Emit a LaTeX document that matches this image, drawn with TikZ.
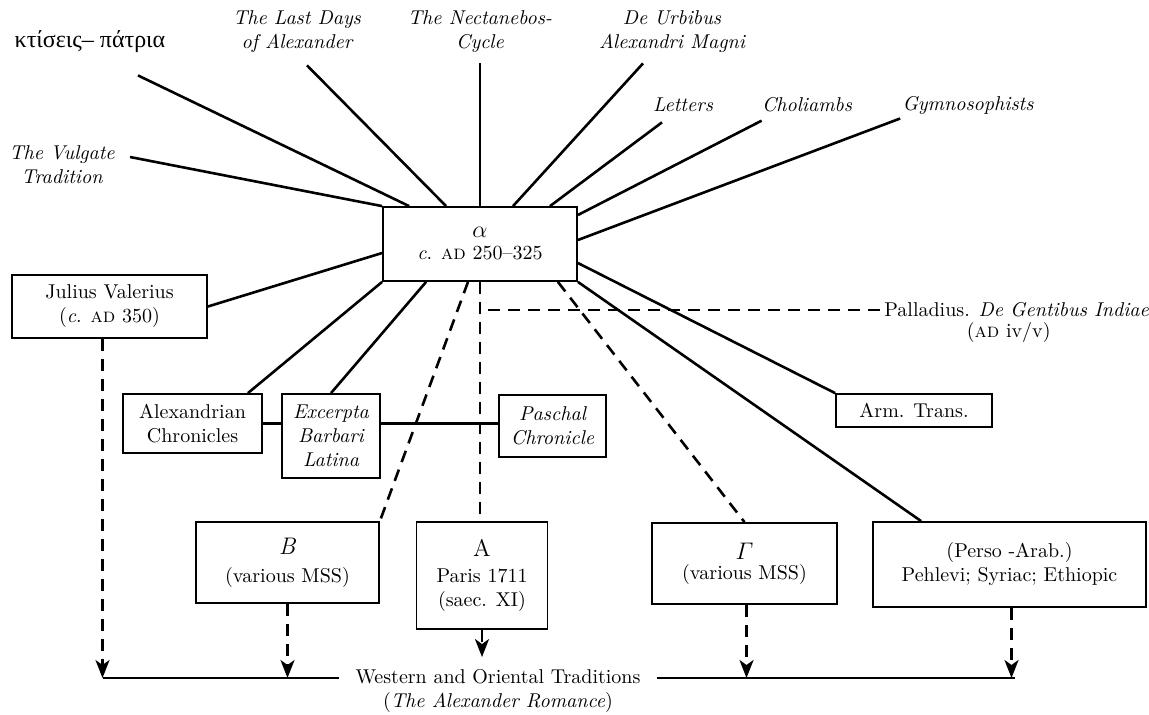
\documentclass[tikz,border=0pt]{standalone}
\usepackage{fontspec}
\usepackage{amsmath}
\newfontfamily\grkfont{Liberation Serif}
\usetikzlibrary{positioning, arrows.meta}

\begin{document}
\begin{tikzpicture}[x=0.5pt,y=-0.5pt,>={Stealth[length=9pt,width=7pt,inset=2.5pt]},
    box/.style={draw,line width=0.9pt,align=center,inner sep=0pt},
    lbl/.style={align=center,font=\itshape,inner sep=0pt},
    conn/.style={line width=1.3pt},
    dline/.style={line width=1.3pt,dash pattern=on 6pt off 4pt}]
    \useasboundingbox (0,0) rectangle (1149,714);

    % alpha and the boxes round it
    \node[box,minimum width=97pt,minimum height=37pt] (alpha) at (480,244)
        {\large$\alpha$\\[-1pt]\textit{c}. \textsc{ad} 250--325};
    \node[box,minimum width=97.5pt,minimum height=31.5pt] (julius) at (109.5,306.5)
        {Julius Valerius\\(\textit{c}. \textsc{ad} 350)};
    \node[box,minimum width=69.5pt,minimum height=29.5pt] (alexchron) at (192.5,423.5)
        {Alexandrian\\Chronicles};
    \node[box,font=\itshape,minimum width=49pt,minimum height=42pt] (excerpta) at (331,436)
        {Excerpta\\Barbari\\Latina};
    \node[box,font=\itshape,minimum width=53.5pt,minimum height=31pt] (paschal) at (552.5,426)
        {Paschal\\Chronicle};
    \node[box,minimum width=78pt,minimum height=16.5pt] (armtrans) at (914,410.5) {Arm. Trans.};
    \node[box,minimum width=91.5pt,minimum height=40.5pt] (bbox) at (287.5,562.5)
        {\large\textit{B}\\[2pt](various MSS)};
    \node[box,minimum width=65.5pt,minimum height=53.5pt] (abox) at (482,575.5)
        {\large A\\[1pt]Paris 1711\\(saec. XI)};
    \node[box,minimum width=92.5pt,minimum height=40.5pt] (gbox) at (744.5,563.5)
        {\large$\varGamma$\\[-2pt](various MSS)};
    \node[box,minimum width=136.5pt,minimum height=42.5pt] (perso) at (1009.5,564.5)
        {(Perso -Arab.)\\Pehlevi; Syriac; Ethiopic};

    % labels at the top
    \node[inner sep=0pt,font=\grkfont\large] (ktiseis) at (90,42) {κτίσεις– πάτρια};
    \node[lbl] (lastdays) at (297,32) {The Last Days\\of Alexander};
    \node[lbl] (necta) at (480,32) {The Nectanebos-\\Cycle};
    \node[lbl] (urbibus) at (672,32) {De Urbibus\\Alexandri Magni};
    \node[lbl] (letters) at (683,105) {Letters};
    \node[lbl] (choliambs) at (807,105) {Choliambs};
    \node[lbl] (gymno) at (968,105) {Gymnosophists};
    \node[lbl] (vulgate) at (62,165) {The Vulgate\\Tradition};

    \node[anchor=west,inner sep=0pt] (pal) at (884,310) {Palladius. \textit{De Gentibus Indiae}};
    \node[below=2pt of pal,inner sep=0pt,xshift=-4pt] (paldate) {(\textsc{ad} iv/v)};

    \node[align=center,inner xsep=8pt,inner ysep=2pt] (trad) at (498,691)
        {Western and Oriental Traditions\\(\textit{The Alexander Romance})};

    % fan of sources
    \draw[conn] ([shift={(7.5pt,4pt)}]vulgate.east) -- (alpha.north west);
    \draw[conn] ([shift={(24pt,-11pt)}]ktiseis.south) -- ([xshift=13.5pt]alpha.north west);
    \draw[conn] ([shift={(5pt,-6pt)}]lastdays.south) -- ([xshift=32pt]alpha.north west);
    \draw[conn] ([yshift=-5pt]necta.south) -- (alpha.north);
    \draw[conn] ([shift={(-14.5pt,-5pt)}]urbibus.south) -- ([xshift=16.5pt]alpha.north);
    \draw[conn] ([shift={(-10.5pt,-5pt)}]letters.south) -- ([xshift=35pt]alpha.north);
    \draw[conn] ([yshift=-4pt]choliambs.south west) -- ([yshift=14.5pt]alpha.east);
    \draw[conn] ([shift={(-1pt,-2pt)}]gymno.south west) -- ([yshift=2pt]alpha.east);

    % derived texts
    \draw[conn] ([yshift=-4.5pt]alpha.west) -- (julius.east);
    \draw[conn] ([yshift=-9.5pt]alpha.east) -- (armtrans.north west);
    \draw[conn] (alpha.south west) -- ([xshift=-7.5pt]alexchron.north east);
    \draw[conn] ([xshift=22pt]alpha.south west) -- (excerpta.north);
    \draw[conn] (alpha.south east) -- ([xshift=24.5pt]perso.north west);
    \draw[conn] (alexchron.east) -- (alexchron.east -| excerpta.west);
    \draw[conn] (alexchron.east -| excerpta.east) -- (alexchron.east -| paschal.west);

    \draw[dline] ([xshift=-6pt]alpha.south) -- (bbox.north east);
    \draw[dline] (alpha.south) -- (alpha.south |- abox.north);
    \draw[dline] ([xshift=-10pt]alpha.south east) -- (gbox.north);
    \draw[dline] ([xshift=-2pt]pal.west) -- (pal.west -| alpha.south);

    % into the later traditions
    \coordinate (lineL) at (103,678);
    \coordinate (lineR) at (1015,678);
    \draw[conn] (lineL) -- (lineL -| trad.west);
    \draw[conn] (lineR -| trad.east) -- (lineR);
    \draw[dline,->] ([xshift=-3.5pt]julius.south) -- ([xshift=-3.5pt]julius.south |- lineL);
    \draw[dline,->] (bbox.south) -- (bbox.south |- lineL);
    \draw[dline,->] (abox.south) -- ([yshift=4pt]abox.south |- trad.north);
    \draw[dline,->] ([xshift=1pt]gbox.south) -- ([xshift=1pt]gbox.south |- lineR);
    \draw[dline,->] ([xshift=1pt]perso.south) -- ([xshift=1pt]perso.south |- lineR);
\end{tikzpicture}
\end{document}
